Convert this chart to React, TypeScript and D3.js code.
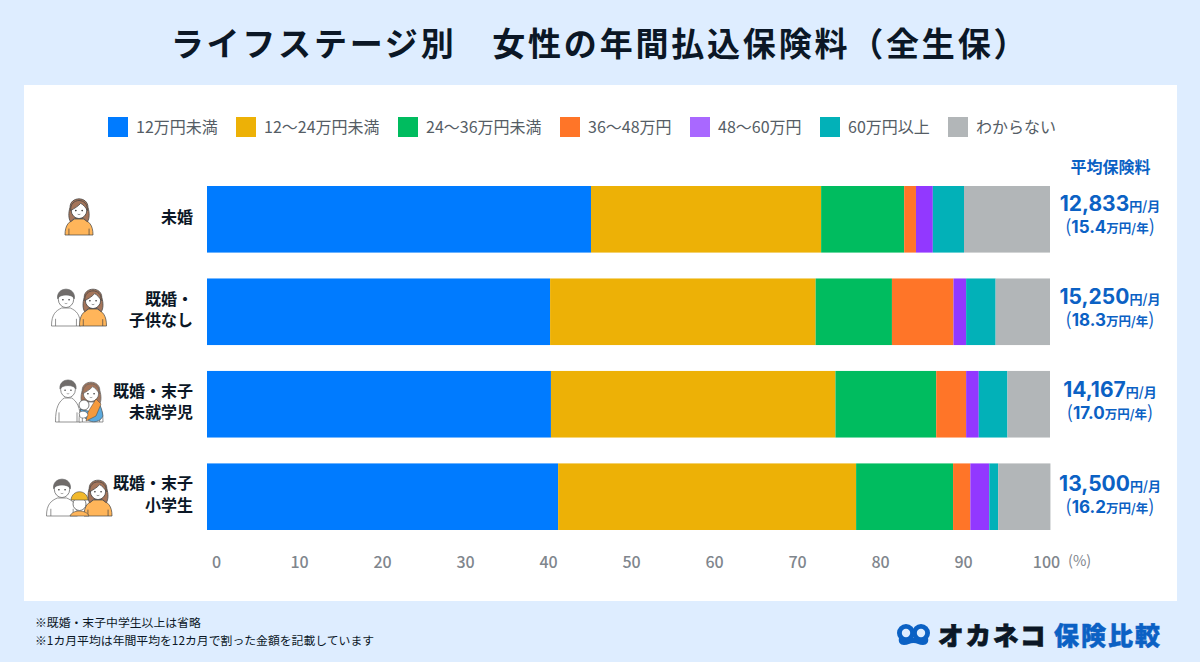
import React, { useRef, useEffect } from "react";
import * as d3 from "d3";

const stages = ["未婚", "既婚・子供なし", "既婚・末子未就学児", "既婚・末子小学生"];
const stageLines = [["未婚"], ["既婚・", "子供なし"], ["既婚・末子", "未就学児"], ["既婚・末子", "小学生"]];
const bands = ["12万円未満", "12〜24万円未満", "24〜36万円未満", "36〜48万円", "48〜60万円", "60万円以上", "わからない"];
const bandColors = ["#007bff", "#edb106", "#00bc5f", "#ff7528", "#9238ff", "#02b1b8", "#b2b6b8"];

const under12 = [45.55, 40.7, 40.8, 41.65];
const from12to24 = [27.3, 31.5, 33.75, 35.35];
const from24to36 = [9.85, 9.05, 11.95, 11.5];
const from36to48 = [1.4, 7.3, 3.55, 2.05];
const from48to60 = [2.0, 1.5, 1.5, 2.25];
const over60 = [3.7, 3.5, 3.4, 1.05];
const unknown = [10.2, 6.45, 5.05, 6.2];
const seriesValues = [under12, from12to24, from24to36, from36to48, from48to60, over60, unknown];

const monthly = ["12,833", "15,250", "14,167", "13,500"];
const yearly = ["15.4", "18.3", "17.0", "16.2"];
const xTicks = [0, 10, 20, 30, 40, 50, 60, 70, 80, 90, 100];
const notes = ["※既婚・末子中学生以上は省略", "※1カ月平均は年間平均を12カ月で割った金額を記載しています"];

const FONT = '"Noto Sans CJK JP", "Noto Sans", sans-serif';
const NAVY = "#0b1726";
const BLUE = "#0b61c4";
const BROWN = "#a5755a";
const GREY = "#706c6a";
const ORANGE = "#ffb55a";

// 人物アイコン(小さな飾りなので手書きのパス)。x, y は肩の中央
const Person = ({ x, y, w = 14, bh = 18, hs = 1.1, hair, shirt, longHair, lineColor = "#444" }: any) => (
  <g transform={`translate(${x},${y})`} stroke={lineColor} strokeWidth={0.7}>
    <path
      d={`M${-w} ${bh} C${-w} ${bh * 0.35} ${-w * 0.7} ${bh * 0.15} ${-w * 0.3} 0 L${w * 0.3} 0 C${w * 0.7} ${bh * 0.15} ${w} ${bh * 0.35} ${w} ${bh} Z`}
      fill={shirt}
    />
    <path d={`M${-w * 0.72} ${bh} V${bh * 0.6} M${w * 0.72} ${bh} V${bh * 0.6}`} fill="none" />
    <g transform={`translate(0,${-8.5 * hs}) scale(${hs})`}>
      {longHair && <path d="M-8 -2 C-8 -12 8 -12 8 -2 C9.5 3 9.5 8 7.5 11 L4 8 L-4 8 L-7.5 11 C-9.5 8 -9.5 3 -8 -2 Z" fill={hair} />}
      <ellipse cx={0} cy={0.5} rx={7} ry={7.6} fill="#fff" />
      <path
        d={longHair ? "M-7.4 1 C-8.5 -11 8.5 -11 7.4 1 C6 -2 4 -4 1.5 -5.5 C-0.5 -3 -4 -1 -7.4 1 Z" : "M-7.6 0 C-9 -11.5 9 -11.5 7.6 0 C6 -4.5 -6 -4.5 -7.6 0 Z"}
        fill={hair}
      />
      <circle cx={-2.8} cy={1} r={0.7} fill="#222" stroke="none" />
      <circle cx={2.8} cy={1} r={0.7} fill="#222" stroke="none" />
      <path d="M-1.2 4.2 Q0 5 1.2 4.2" fill="none" strokeWidth={0.5} />
    </g>
  </g>
);

const Icons = ({ i }: { i: number }) => {
  if (i === 0) return <Person x={79} y={219} w={14} bh={16} hs={1.12} hair={BROWN} shirt={ORANGE} longHair />;
  if (i === 1)
    return (
      <g>
        <Person x={66} y={308} w={14.5} hair={GREY} shirt="#fff" lineColor="#666" />
        <Person x={93} y={309} w={13.5} bh={17} hair={BROWN} shirt={ORANGE} longHair />
      </g>
    );
  if (i === 2)
    return (
      <g>
        <Person x={68} y={398} w={12.5} bh={24} hs={1.05} hair={GREY} shirt="#fff" lineColor="#666" />
        <Person x={91} y={402} w={12} bh={20} hs={1.1} hair={BROWN} shirt="#fff" longHair lineColor="#666" />
        <path d="M80 409 C84 424 99 425 103 416 C102 408 99 402 96 400 L92 412 Z" fill="#5ba9dc" stroke="#444" strokeWidth={0.6} />
        <path d="M88 412 L96 399 L101 404 L96 416 L86 421 Z" fill="#f59a3c" stroke="#444" strokeWidth={0.5} />
        <circle cx={84} cy={405} r={5} fill="#fff" stroke="#444" strokeWidth={0.7} />
        <path d="M79 413 C82 410 87 411 88 415 C87 418 82 419 80 417 Z" fill="#fff" stroke="#444" strokeWidth={0.5} />
      </g>
    );
  return (
    <g>
      <Person x={62} y={498} w={15.5} bh={18} hair={GREY} shirt="#fff" lineColor="#666" />
      <Person x={98} y={500} w={14} bh={16} hair={BROWN} shirt={ORANGE} longHair />
      <g>
        <path d="M70 516 C71 513 75 511 79 511 C84 511 88 513 89 516 Z" fill={ORANGE} stroke="#444" strokeWidth={0.6} />
        <circle cx={79.5} cy={504} r={6.5} fill="#fff" stroke="#444" strokeWidth={0.7} />
        <path d="M71 500 C72 489 87 489 88 500 Z" fill="#f2b92c" stroke="#444" strokeWidth={0.6} />
      </g>
    </g>
  );
};

const App: React.FC = () => {
  const svgRef = useRef<SVGSVGElement | null>(null);
  const width = 1200;
  const height = 662;

  const xScale = d3.scaleLinear().domain([0, 100]).range([207, 1050]);
  // 目盛りの文字はバーより少し内側に並ぶ
  const tickScale = d3.scaleLinear().domain([0, 100]).range([216, 1046]);
  const yScale = d3.scaleBand<string>().domain(stages).range([186, 530]).paddingInner(0.28);

  useEffect(() => {
    if (!svgRef.current) return;
    const svg = d3.select(svgRef.current);
    svg.select(".bars").remove();
    svg.select(".x-axis").remove();

    // 積み上げ
    const table = stages.map((stage, i) => {
      const row: any = { stage };
      bands.forEach((b, k) => (row[b] = seriesValues[k][i]));
      return row;
    });
    const stacked = d3.stack<any>().keys(bands)(table);

    svg
      .append("g")
      .attr("class", "bars")
      .selectAll("g")
      .data(stacked)
      .enter()
      .append("g")
      .attr("fill", (_, k) => bandColors[k])
      .selectAll("rect")
      .data((d) => d)
      .enter()
      .append("rect")
      .attr("x", (d) => xScale(d[0]))
      .attr("y", (d) => yScale(d.data.stage)!)
      .attr("width", (d) => xScale(d[1]) - xScale(d[0]))
      .attr("height", yScale.bandwidth());

    // X軸
    const xAxis = svg
      .append("g")
      .attr("class", "x-axis")
      .attr("transform", "translate(0,530)")
      .call(d3.axisBottom(tickScale).tickValues(xTicks).tickSize(0).tickPadding(22).tickFormat((d) => String(d)));
    xAxis.select(".domain").remove();
    xAxis
      .selectAll("text")
      .attr("dy", "1.02em")
      .style("font-family", FONT)
      .style("font-size", "16px")
      .style("font-weight", 500)
      .style("fill", "#7f868d");
  }, []);

  const legendX = [108, 236, 398, 560, 690, 820, 948];
  const valueNudge = [-3, -3, -2, -1];

  return (
    <div style={{ position: "absolute", left: 0, top: 0 }}>
      <svg ref={svgRef} width={width} height={height} style={{ display: "block", fontFamily: FONT }}>
        <rect width={width} height={height} fill="#deedff" />
        <rect x={24} y={85} width={1153} height={516} fill="#fff" />

        <text x={600} y={55.5} textAnchor="middle" fontSize={33} fontWeight={700} fill={NAVY} letterSpacing={2.8}>
          ライフステージ別　女性の年間払込保険料（全生保）
        </text>

        {bands.map((b, k) => (
          <g key={b}>
            <rect x={legendX[k]} y={117} width={20} height={20} fill={k === 4 ? "#a968ff" : bandColors[k]} />
            <text x={legendX[k] + 28} y={133} fontSize={16} fill="#555d65">
              {b}
            </text>
          </g>
        ))}

        <text x={1110.5} y={172.5} textAnchor="middle" fontSize={16} fontWeight={700} fill={BLUE}>
          平均保険料
        </text>

        {stages.map((s, i) => {
          const cy = yScale(s)! + yScale.bandwidth() / 2;
          const lines = stageLines[i];
          return (
            <g key={s}>
              <Icons i={i} />
              <g fontSize={16} fontWeight={700} fill={NAVY} textAnchor="end">
                {lines.map((l, j) => (
                  <text key={l} x={193} y={cy + 3.5 + (j - (lines.length - 1) / 2) * 21.5}>
                    {l}
                  </text>
                ))}
              </g>
              <text x={1110} y={cy - 5 + valueNudge[i]} textAnchor="middle" fill={BLUE} fontWeight={700}>
                <tspan fontSize={21} fontFamily="Inter, sans-serif">{monthly[i]}</tspan>
                <tspan fontSize={13}>円/月</tspan>
              </text>
              <text x={1110} y={cy + 17 + valueNudge[i]} textAnchor="middle" fill={BLUE} fontWeight={700}>
                <tspan fontSize={18} fontWeight={400}>(</tspan>
                <tspan fontSize={17} fontFamily="Inter, sans-serif">{yearly[i]}</tspan>
                <tspan fontSize={12.5}>万円/年</tspan>
                <tspan fontSize={18} fontWeight={400}>)</tspan>
              </text>
            </g>
          );
        })}

        <text x={1068} y={566} fontSize={14.5} fill="#7f868d">(%)</text>

        {notes.map((n, i) => (
          <text key={n} x={35} y={627 + i * 18} fontSize={11.85} fill={NAVY}>
            {n}
          </text>
        ))}

        {/* ロゴ */}
        <g fill="#0b61c4">
          <circle cx={906} cy={633} r={9} />
          <circle cx={921} cy={633} r={9} />
          <path d="M899 638 H928 C929 642 927 645 923 645 C919 645 917 643 913.5 643 C910 643 908 645 904 645 C900 645 898 642 899 638 Z" />
          <circle cx={906} cy={633} r={4.2} fill="#deedff" />
          <circle cx={921} cy={633} r={4.2} fill="#deedff" />
        </g>
        <text x={938} y={645} fontSize={25.5} fontWeight={900} fill={NAVY} stroke={NAVY} strokeWidth={0.8} letterSpacing={2}>オカネコ</text>
        <text x={1054} y={645} fontSize={25} fontWeight={900} fill={BLUE} stroke={BLUE} strokeWidth={0.5} letterSpacing={2}>保険比較</text>
      </svg>
    </div>
  );
};

export default App;
